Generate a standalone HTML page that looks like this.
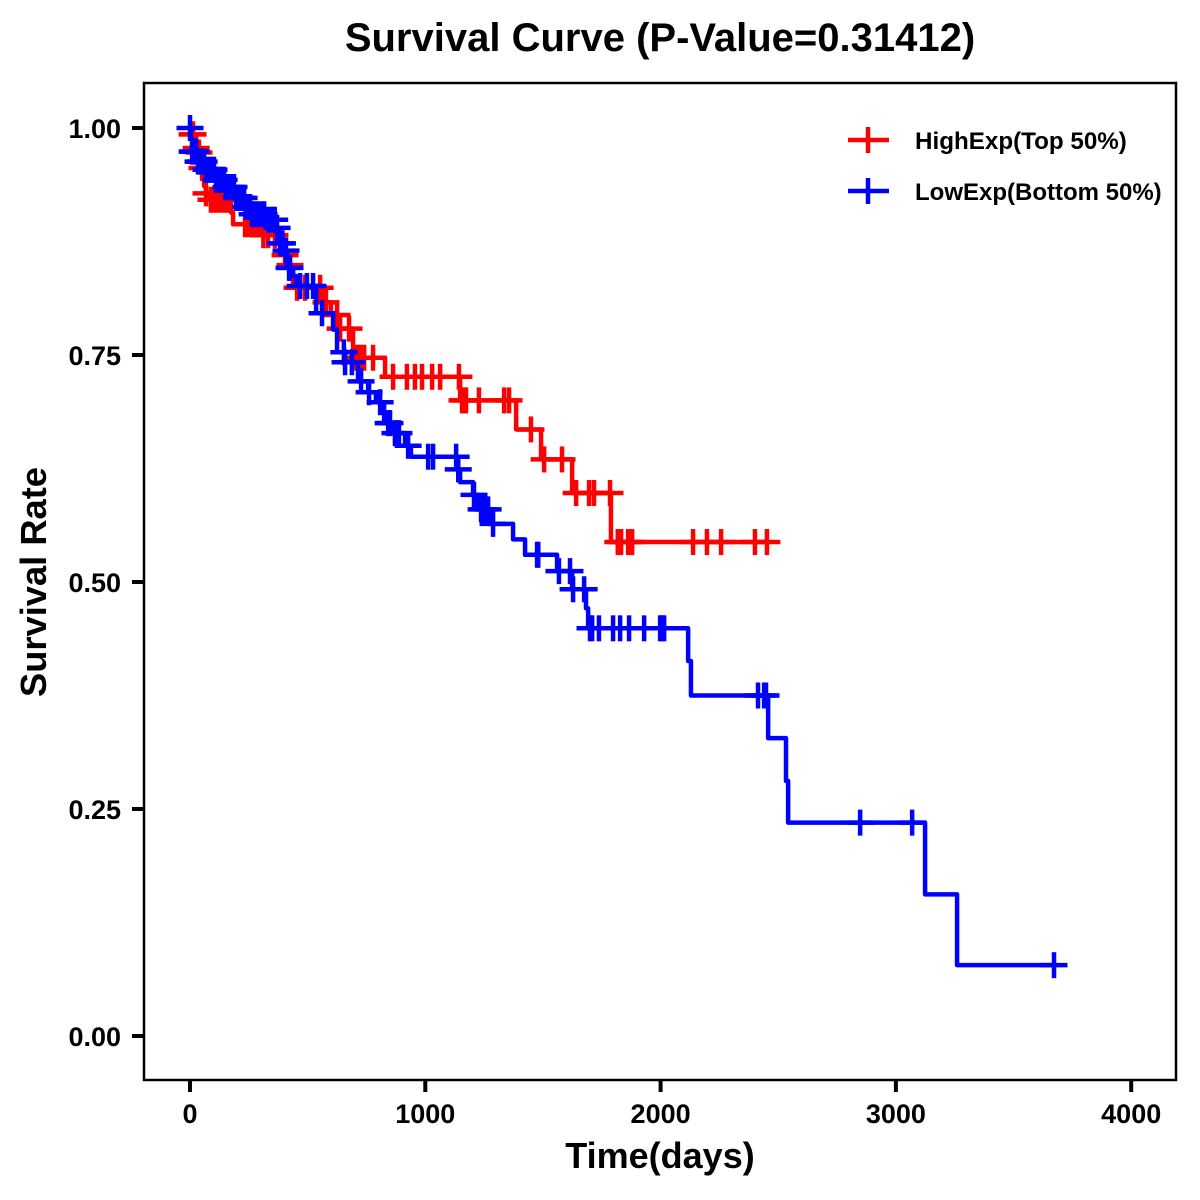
<!DOCTYPE html>
<html lang="en">
<head>
<meta charset="utf-8">
<title>Survival Curve</title>
<style>
html,body{margin:0;padding:0;background:#fff;}
svg{display:block;}
text{font-family:"Liberation Sans",Arial,sans-serif;font-weight:bold;fill:#000;}
</style>
</head>
<body>
<svg id="chart" xmlns="http://www.w3.org/2000/svg" width="1200" height="1200" viewBox="0 0 1200 1200">
  <rect x="0" y="0" width="1200" height="1200" fill="#fff"/>
  <text x="660" y="51" text-anchor="middle" font-size="40">Survival Curve (P-Value=0.31412)</text>
  <g id="series-layer"></g>
  <rect x="144" y="83" width="1032" height="997" fill="none" stroke="#000" stroke-width="2.5"/>
  <g id="axis-layer"></g>
  <text x="660" y="1168" text-anchor="middle" font-size="36">Time(days)</text>
  <text transform="translate(46,582) rotate(-90)" text-anchor="middle" font-size="36.3">Survival Rate</text>
  <g>
    <g>
      <line x1="848" x2="889" y1="140" y2="140" stroke="#f00" stroke-width="4.5"/>
      <line x1="868" x2="868" y1="127" y2="153" stroke="#f00" stroke-width="4.5"/>
      <text x="915" y="149" font-size="24.2">HighExp(Top 50%)</text>
    </g>
    <g>
      <line x1="848" x2="889" y1="191" y2="191" stroke="#00f" stroke-width="4.5"/>
      <line x1="868" x2="868" y1="178" y2="204" stroke="#00f" stroke-width="4.5"/>
      <text x="915" y="200" font-size="24">LowExp(Bottom 50%)</text>
    </g>
  </g>
</svg>
<script>
const xTicks = [0, 1000, 2000, 3000, 4000];
const yTicks = [0, 0.25, 0.5, 0.75, 1];
const yTickLabels = ['0.00', '0.25', '0.50', '0.75', '1.00'];

const highTimes = [0,4,17,26,34,47,55,60,68,81,174,183,306,366,395,412,438,565,599,633,693,829,1148,1386,1492,1624,1789];
const highSurv = [1,0.993,0.985,0.978,0.973,0.956,0.951,0.936,0.928,0.921,0.907,0.894,0.882,0.873,0.860,0.849,0.824,0.808,0.794,0.779,0.747,0.726,0.700,0.668,0.635,0.598,0.544];
const highCensor = [9,13,26,38,51,68,89,102,115,128,145,162,234,251,268,285,298,312,332,361,404,425,455,489,553,578,625,638,676,706,723,740,778,863,922,956,986,1029,1063,1143,1156,1165,1173,1228,1335,1356,1449,1505,1581,1641,1696,1717,1785,1818,1832,1862,1879,2138,2197,2257,2401,2452];

const lowTimes = [0,4,9,30,64,106,153,196,238,264,319,366,378,404,412,438,451,536,608,625,657,714,757,790,825,859,914,939,1135,1148,1203,1224,1271,1373,1424,1560,1624,1683,1692,2117,2129,2457,2533,2542,3124,3260];
const lowSurv = [1,0.988,0.974,0.963,0.954,0.943,0.935,0.923,0.913,0.905,0.899,0.890,0.873,0.865,0.846,0.837,0.826,0.796,0.778,0.753,0.742,0.721,0.709,0.698,0.675,0.664,0.650,0.638,0.624,0.610,0.596,0.580,0.564,0.547,0.530,0.512,0.492,0.471,0.449,0.413,0.375,0.328,0.281,0.235,0.156,0.078];
const lowCensor = [0,9,13,26,34,43,51,60,68,77,85,94,102,111,119,128,136,145,153,162,170,179,187,196,204,213,221,230,238,247,255,264,276,289,306,315,332,349,360,370,383,393,408,421,425,468,497,523,561,654,659,688,727,761,808,842,850,871,888,927,1012,1033,1131,1140,1207,1237,1250,1267,1288,1475,1480,1568,1615,1628,1675,1700,1709,1738,1798,1828,1866,1930,1998,2006,2015,2414,2440,2448,2848,3069,3672];

const SVG_NS = 'http://www.w3.org/2000/svg';
const seriesLayer = document.getElementById('series-layer');
const axisLayer = document.getElementById('axis-layer');

function xScale(days) { return 190 + days * 0.2353; }
function yScale(rate) { return 1036 - rate * 908; }

function survivalAt(times, surv, t) {
  let value = surv[0];
  for (let i = 0; i < times.length; i++) {
    if (times[i] <= t) value = surv[i];
  }
  return value;
}

function drawLine(parent, x1, y1, x2, y2, color, width) {
  const el = document.createElementNS(SVG_NS, 'line');
  el.setAttribute('x1', x1);
  el.setAttribute('y1', y1);
  el.setAttribute('x2', x2);
  el.setAttribute('y2', y2);
  el.setAttribute('stroke', color);
  el.setAttribute('stroke-width', width);
  parent.appendChild(el);
  return el;
}

function drawSeries(key, times, surv, censor, color) {
  const group = document.createElementNS(SVG_NS, 'g');
  
  

  const end = Math.max(times[times.length - 1], censor[censor.length - 1]);
  let d = 'M' + xScale(times[0]) + ' ' + yScale(surv[0]);
  for (let i = 1; i < times.length; i++) {
    d += 'H' + xScale(times[i]) + 'V' + yScale(surv[i]);
  }
  d += 'H' + xScale(end);

  const path = document.createElementNS(SVG_NS, 'path');
  path.setAttribute('d', d);
  path.setAttribute('fill', 'none');
  path.setAttribute('stroke', color);
  path.setAttribute('stroke-width', '4.5');
  path.setAttribute('stroke-linejoin', 'round');
  
  
  group.appendChild(path);

  censor.forEach(function (t) {
    const cx = xScale(t);
    const cy = yScale(survivalAt(times, surv, t));
    const mark = document.createElementNS(SVG_NS, 'g');
    
    
    drawLine(mark, cx - 13.5, cy, cx + 13.5, cy, color, 4.5);
    drawLine(mark, cx, cy - 13, cx, cy + 13, color, 4.5);
    group.appendChild(mark);
  });

  seriesLayer.appendChild(group);
}

function drawAxes() {
  xTicks.forEach(function (tick) {
    const x = xScale(tick);
    const line = drawLine(axisLayer, x, 1080, x, 1092, '#000', 4);
    
    
    const label = document.createElementNS(SVG_NS, 'text');
    label.setAttribute('x', x);
    label.setAttribute('y', 1123);
    label.setAttribute('text-anchor', 'middle');
    label.setAttribute('font-size', '27');
    
    
    label.textContent = String(tick);
    axisLayer.appendChild(label);
  });
  yTicks.forEach(function (tick, i) {
    const y = yScale(tick);
    const line = drawLine(axisLayer, 132, y, 144, y, '#000', 4);
    
    
    const label = document.createElementNS(SVG_NS, 'text');
    label.setAttribute('x', 121);
    label.setAttribute('y', y + 10);
    label.setAttribute('text-anchor', 'end');
    label.setAttribute('font-size', '27');
    
    
    label.textContent = yTickLabels[i];
    axisLayer.appendChild(label);
  });
}

drawSeries('high', highTimes, highSurv, highCensor, '#ff0000');
drawSeries('low', lowTimes, lowSurv, lowCensor, '#0000ff');
drawAxes();
</script>
</body>
</html>
